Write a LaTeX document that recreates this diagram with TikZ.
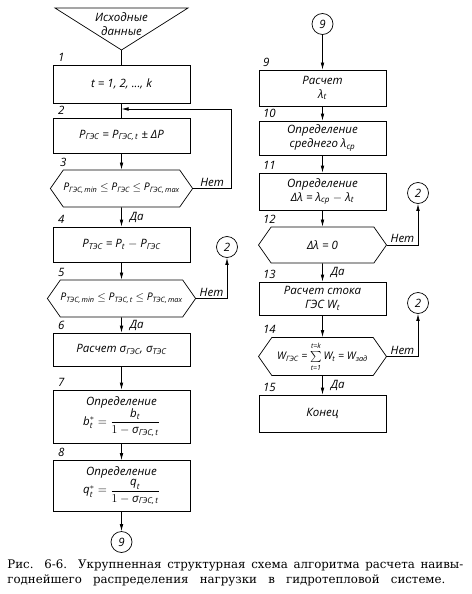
\documentclass[tikz,border=0pt]{standalone}
\usepackage{amsmath}
\usepackage{fontspec}
\setmainfont{Liberation Serif}
\newfontfamily\schfont{Open Sans}
\newfontfamily\capfont{DejaVu Serif}
\usetikzlibrary{arrows.meta,shapes.symbols}

\newcommand{\ix}[1]{\textsubscript{#1}}
\newcommand{\tx}[1]{\text{#1}}
\newcommand{\sumlim}[2]{\raisebox{#1}{\fontsize{7}{8}\selectfont #2}}

\begin{document}
\begin{tikzpicture}[
  x=1pt, y=-1pt, line width=0.7pt,
  every node/.style={font=\fontsize{11.5}{14}\selectfont\schfont\itshape},
  blk/.style={draw, minimum width=137pt, inner sep=1pt, align=center},
  rblk/.style={blk, minimum width=127pt},
  cond/.style={draw, shape=signal, signal to=east and west, signal pointer angle=110,
    minimum width=138pt, minimum height=37pt, inner sep=0pt,
    font=\fontsize{10.5}{12}\selectfont\schfont\itshape},
  conn/.style={draw, circle, minimum size=21pt, inner sep=0pt},
  num/.style={anchor=south west, inner sep=1pt},
  yn/.style={inner sep=2pt},
  capline/.style={anchor=base west, inner sep=0pt, font=\fontsize{11.8}{13}\selectfont\capfont},
  arr/.style={-{Latex[length=7pt,width=3.6pt]}}
]
\useasboundingbox (0,0) rectangle (471,594);

% left column
\coordinate (src-tip) at (121.5,50);
\draw (55,8) -- (188,8) -- (src-tip) -- cycle;
\node[align=center] (src) at (121.5,24) {Исходные\\данные};
\node[blk, minimum height=38pt] (b1) at (121.5,84) {t = 1, 2, ..., k};
\node[blk, minimum height=35pt] (b2) at (121.5,135.5) {P\ix{ГЭС} = P\ix{ГЭС,\,t} ± ΔP};
\node[cond] (h3) at (121.5,188.5) {P\ix{ГЭС,\,min} $\le$ P\ix{ГЭС} $\le$ P\ix{ГЭС,\,max}};
\node[blk, minimum height=35pt] (b4) at (121.5,244.5) {P\ix{ТЭС} = P\ix{t} $-$ P\ix{ГЭС}};
\node[cond] (h5) at (121.5,298.5) {P\ix{ТЭС,\,min} $\le$ P\ix{ТЭС,\,t} $\le$ P\ix{ТЭС,\,max}};
\node[blk, minimum height=33pt] (b6) at (121.5,349.5) {Расчет σ\ix{ГЭС}, σ\ix{ТЭС}};
\node[blk, minimum height=53pt] (b7) at (121.5,416.5)
  {Определение\\ $\tx{b}^{*}_{\tx{t}}=\dfrac{\tx{b}_{\tx{t}}}{1-\tx{σ}_{\tx{ГЭС,\,t}}}$};
\node[blk, minimum height=51pt] (b8) at (121.5,486)
  {Определение\\ $\tx{q}^{*}_{\tx{t}}=\dfrac{\tx{q}_{\tx{t}}}{1-\tx{σ}_{\tx{ГЭС,\,t}}}$};
\node[conn] (c9a) at (121.5,542) {9};
\node[conn] (c2a) at (227,247) {2};

\node[num, xshift=4pt, yshift=2pt] at (b1.north west) {1};
\node[num, xshift=4pt, yshift=2pt] at (b2.north west) {2};
\node[num, xshift=6pt, yshift=2pt] at (h3.north -| b1.west) {3};
\node[num, xshift=4pt, yshift=2pt] at (b4.north west) {4};
\node[num, xshift=4pt, yshift=2pt] at (h5.north -| b1.west) {5};
\node[num, xshift=4pt, yshift=2pt] at (b6.north west) {6};
\node[num, xshift=4pt, yshift=2pt] at (b7.north west) {7};
\node[num, xshift=4pt, yshift=2pt] at (b8.north west) {8};

% right column
\node[conn] (c9b) at (322.5,24) {9};
\node[rblk, minimum height=36pt] (r9) at (322.5,88) {Расчет\\ λ\ix{t}};
\node[rblk, minimum height=34pt] (r10) at (322.5,138) {Определение\\ среднего λ\ix{ср}};
\node[rblk, minimum height=37pt] (r11) at (322.5,191.5) {Определение\\ Δλ = λ\ix{ср} $-$ λ\ix{t}};
\node[cond, minimum width=128pt, minimum height=36pt] (h12) at (322.5,245)
  {\fontsize{11.5}{14}\selectfont Δλ = 0};
\node[rblk, minimum height=33pt] (r13) at (322.5,298.5) {Расчет стока\\ ГЭС W\ix{t}};
\node[cond, minimum width=128pt, minimum height=38pt] (h14) at (322.5,356.5)
  {W\ix{ГЭС} = $\sum\limits_{\sumlim{-1pt}{t=1}}^{\sumlim{1.5pt}{t=k}}$\,W\ix{t} = W\ix{зад}};
\node[rblk, minimum height=37pt] (r15) at (322.5,413.5) {Конец};
\node[conn] (c2b) at (418,193) {2};
\node[conn] (c2c) at (418,303) {2};

\node[num, xshift=3pt, yshift=2pt] at (r9.north west) {9};
\node[num, xshift=3pt, yshift=2pt] at (r10.north west) {10};
\node[num, xshift=3pt, yshift=2pt] at (r11.north west) {11};
\node[num, xshift=3pt, yshift=2pt] at (h12.north -| r9.west) {12};
\node[num, xshift=3pt, yshift=2pt] at (r13.north west) {13};
\node[num, xshift=3pt, yshift=2pt] at (h14.north -| r9.west) {14};
\node[num, xshift=3pt, yshift=2pt] at (r15.north west) {15};

% connectors, left
\coordinate (j1) at (121.5,109);
\draw (src-tip) -- (b1);
\draw (b1) -- (b2);
\draw[arr] (h3.east) -- node[yn, above] {Нет} ++(38,0) |- (j1);
\draw[arr] (b2) -- (h3);
\draw[arr] (h3) -- node[yn, right=6pt] {Да} (b4);
\draw[arr] (b4) -- (h5);
\draw[arr] (h5.east) -- node[yn, above] {Нет} (h5.east -| c2a) -- (c2a);
\draw[arr] (h5) -- node[yn, right=6pt] {Да} (b6);
\draw[arr] (b6) -- (b7);
\draw[arr] (b7) -- (b8);
\draw[arr] (b8) -- (c9a);

% connectors, right
\draw[arr] (c9b) -- (r9);
\draw[arr] (r9) -- (r10);
\draw[arr] (r10) -- (r11);
\draw[arr] (r11) -- (h12);
\draw[arr] (h12.east) -- node[yn, above] {Нет} (h12.east -| c2b) -- (c2b);
\draw[arr] (h12) -- node[yn, right=6pt] {Да} (r13);
\draw[arr] (r13) -- (h14);
\draw[arr] (h14.east) -- node[yn, above] {Нет} (h14.east -| c2c) -- (c2c);
\draw[arr] (h14) -- node[yn, right=6pt] {Да} (r15);

% caption
\node[capline] (cap1) at (7,568)
  {\makebox[456pt][s]{Рис. 6-6. Укрупненная структурная схема алгоритма расчета наивы-}};
\node[capline] (cap2) at (7,583)
  {\makebox[438pt][s]{годнейшего распределения нагрузки в гидротепловой системе.}};
\end{tikzpicture}
\end{document}
